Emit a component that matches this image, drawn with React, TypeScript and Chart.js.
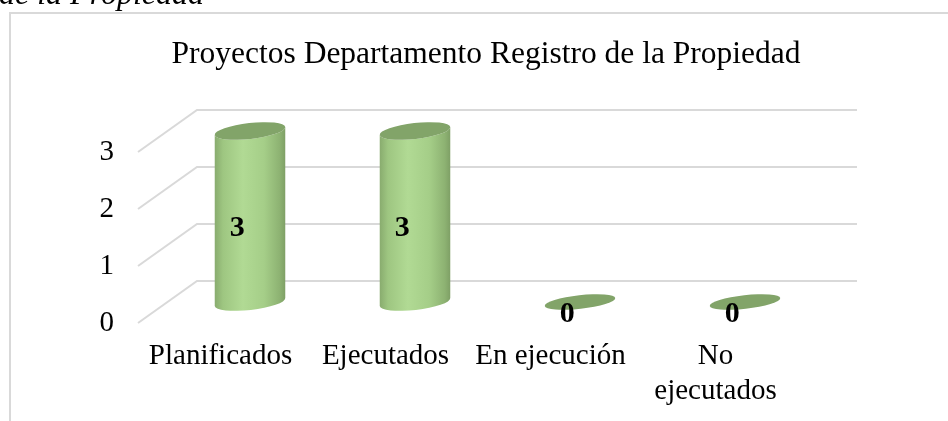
import React, { useEffect, useRef } from 'react';
import { Chart, registerables } from 'chart.js';

Chart.register(...registerables);

const chartTitle = 'Proyectos Departamento Registro de la Propiedad';
const captionText = 'de la Propiedad';
const categories: (string | string[])[] = ['Planificados', 'Ejecutados', 'En ejecución', ['No', 'ejecutados']];
const projectCounts = [3, 3, 0, 0];
const yTickValues = [0, 1, 2, 3];

const FONT = "'Liberation Serif', 'Times New Roman', serif";
const DEPTH_X = 59;
const DEPTH_Y = -42;

const cylinderPlugin = {
  id: 'cylinder3d',
  beforeDraw(chart: any) {
    const ctx = chart.ctx as CanvasRenderingContext2D;
    ctx.save();
    ctx.fillStyle = '#ffffff';
    ctx.fillRect(0, 0, chart.width, chart.height);
    ctx.strokeStyle = '#d9d9d9';
    ctx.lineWidth = 2;
    ctx.strokeRect(10, 13, chart.width + 40, chart.height + 40);
    ctx.fillStyle = '#000000';
    ctx.textBaseline = 'alphabetic';
    ctx.font = `italic 32px ${FONT}`;
    ctx.textAlign = 'right';
    ctx.fillText(captionText, 204, 4);
    ctx.font = `31.5px ${FONT}`;
    ctx.textAlign = 'center';
    ctx.fillText(chartTitle, 486, 63);
    ctx.restore();
  },
  beforeDatasetsDraw(chart: any) {
    const ctx = chart.ctx as CanvasRenderingContext2D;
    const area = chart.chartArea;
    const yScale = chart.scales.y;
    ctx.save();
    ctx.strokeStyle = '#d9d9d9';
    ctx.lineWidth = 2;
    yScale.ticks.forEach((t: any) => {
      const py = yScale.getPixelForValue(t.value);
      ctx.beginPath();
      ctx.moveTo(area.left, py);
      ctx.lineTo(area.left + DEPTH_X, py + DEPTH_Y);
      ctx.lineTo(area.right + DEPTH_X, py + DEPTH_Y);
      ctx.stroke();
    });
    ctx.restore();
  },
  afterDatasetsDraw(chart: any) {
    const ctx = chart.ctx as CanvasRenderingContext2D;
    const meta = chart.getDatasetMeta(0);
    const values = chart.data.datasets[0].data as number[];
    meta.data.forEach((bar: any, i: number) => {
      const { x, y, base, width } = bar.getProps(['x', 'y', 'base', 'width'], true);
      const cx = x + DEPTH_X / 2;
      const top = y + DEPTH_Y / 2;
      const bottom = base + DEPTH_Y / 2;
      const rx = width / 2;
      const ry = 8;
      const rot = -0.11;
      ctx.save();
      if (bottom - top > 1) {
        const grad = ctx.createLinearGradient(cx - rx, 0, cx + rx, 0);
        grad.addColorStop(0, '#88ab6e');
        grad.addColorStop(0.12, '#9ec681');
        grad.addColorStop(0.4, '#b1da94');
        grad.addColorStop(0.7, '#a5ce88');
        grad.addColorStop(0.92, '#8db272');
        grad.addColorStop(1, '#7e9f65');
        ctx.beginPath();
        ctx.ellipse(cx, bottom, rx, ry, rot, Math.PI, 0, true);
        ctx.lineTo(cx + rx * Math.cos(rot), top + rx * Math.sin(rot));
        ctx.ellipse(cx, top, rx, ry, rot, 0, Math.PI, false);
        ctx.closePath();
        ctx.fillStyle = grad;
        ctx.fill();
      }
      ctx.beginPath();
      ctx.ellipse(cx, top, rx, bottom - top > 1 ? ry : 6.8, rot, 0, Math.PI * 2);
      ctx.fillStyle = '#82a469';
      ctx.fill();
      // data label
      const lx = x + DEPTH_X / 4 + 2;
      const ly = (y + base) / 2 + DEPTH_Y / 4 + 1.5;
      ctx.fillStyle = '#000000';
      ctx.font = `bold 30px ${FONT}`;
      ctx.textAlign = 'center';
      ctx.textBaseline = 'middle';
      ctx.fillText(String(values[i]), lx, ly);
      ctx.restore();
    });
  },
};

export default function App() {
  const canvasRef = useRef<HTMLCanvasElement | null>(null);

  useEffect(() => {
    if (!canvasRef.current) return;
    const chart = new Chart(canvasRef.current, {
      type: 'bar',
      data: {
        labels: categories as any,
        datasets: [
          {
            data: projectCounts,
            backgroundColor: 'rgba(0,0,0,0)',
            borderWidth: 0,
            barPercentage: 0.43,
            categoryPercentage: 1,
          },
        ],
      },
      options: {
        animation: false,
        responsive: false,
        devicePixelRatio: 1,
        layout: { padding: { left: 98, right: 150, top: 152, bottom: 0 } },
        plugins: {
          legend: { display: false },
          tooltip: { enabled: false },
          title: { display: false },
        },
        scales: {
          x: {
            grid: { display: false, drawTicks: false },
            border: { display: false },
            ticks: {
              font: { family: FONT, size: 29 },
              color: '#000000',
              padding: 16,
              maxRotation: 0,
              minRotation: 0,
              autoSkip: false,
            },
            afterFit: (s: any) => {
              s.height = 98;
            },
          },
          y: {
            min: yTickValues[0],
            max: yTickValues[yTickValues.length - 1],
            grid: { display: false, drawTicks: false },
            border: { display: false },
            ticks: {
              stepSize: 1,
              font: { family: FONT, size: 29 },
              color: '#000000',
              padding: 24,
            },
            afterFit: (s: any) => {
              s.width = 40;
            },
          },
        },
      },
      plugins: [cylinderPlugin],
    });
    return () => chart.destroy();
  }, []);

  return (
    <div style={{ position: 'fixed', left: 0, top: 0, width: 948, height: 421, background: '#fff' }}>
      <canvas ref={canvasRef} width={948} height={421} style={{ display: 'block' }} />
    </div>
  );
}
